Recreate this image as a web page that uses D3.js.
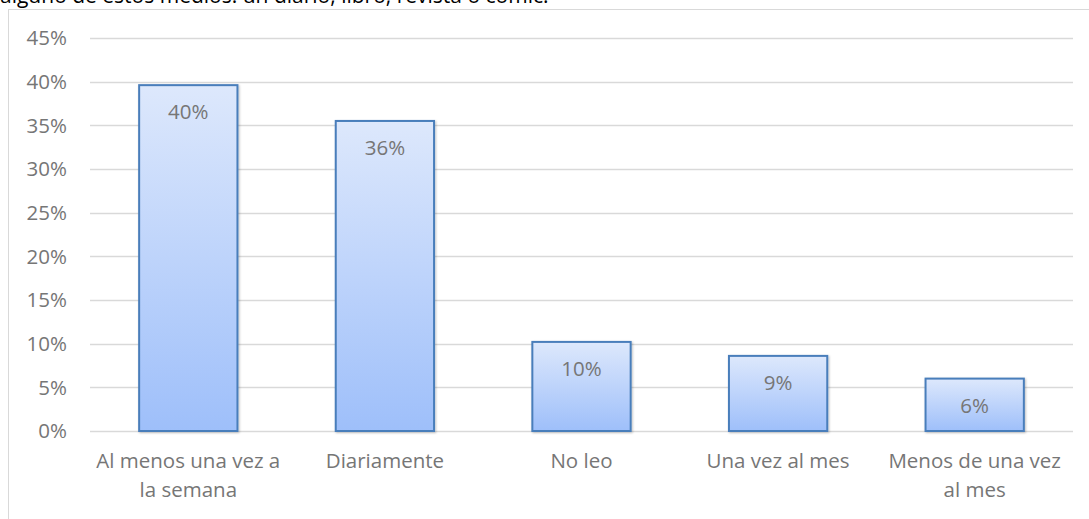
<!DOCTYPE html>
<html lang="es">
<head>
<meta charset="utf-8">
<title>Frecuencia de lectura</title>
<script src="https://cdn.jsdelivr.net/npm/d3@7"></script>
<style>
  html, body { margin: 0; padding: 0; background: #fff; overflow: hidden; }
  text { font-family: "Open Sans", sans-serif; }
  .grid line { stroke: #d9d9d9; stroke-width: 1.5px; }
  .axis text, .cat text, .val text { fill: #767676; font-size: 20.5px; }
</style>
</head>
<body>
<div id="chart"></div>
<script>
var categories = ["Al menos una vez a\nla semana", "Diariamente", "No leo", "Una vez al mes", "Menos de una vez\nal mes"];
var values = [0.396, 0.355, 0.102, 0.086, 0.060];
var labels = ["40%", "36%", "10%", "9%", "6%"];
var yTicks = [0, 0.05, 0.10, 0.15, 0.20, 0.25, 0.30, 0.35, 0.40, 0.45];
var caption = "alguno de estos medios: un diario, libro, revista o cómic.";

var width = 1089, height = 519;

var svg = d3.select("#chart").append("svg")
    .attr("width", width)
    .attr("height", height);

// caption text cut off at the top
svg.append("text")
    .attr("x", 0)
    .attr("y", 3)
    .style("font-size", "21px")
    .style("fill", "#000")
    .text(caption);

// chart frame
svg.append("rect")
    .attr("x", 8.5).attr("y", 9.5)
    .attr("width", 1100).attr("height", 530)
    .attr("fill", "#fff")
    .attr("stroke", "#d9d9d9");

var x = d3.scaleBand()
    .domain(categories)
    .range([90, 1073])
    .paddingInner(0.5)
    .paddingOuter(0.25);

var y = d3.scaleLinear()
    .domain([0, 0.45])
    .range([431, 38]);

var defs = svg.append("defs");
var grad = defs.append("linearGradient")
    .attr("id", "barGrad")
    .attr("x1", 0).attr("y1", 0).attr("x2", 0).attr("y2", 1);
grad.append("stop").attr("offset", "0%").attr("stop-color", "#dde8fc");
grad.append("stop").attr("offset", "100%").attr("stop-color", "#9ebffa");

var shadow = defs.append("filter").attr("id", "shadow")
    .attr("x", "-10%").attr("y", "-10%").attr("width", "120%").attr("height", "120%");
shadow.append("feDropShadow")
    .attr("dx", 1).attr("dy", 1).attr("stdDeviation", 1.2)
    .attr("flood-color", "#000").attr("flood-opacity", 0.25);

// gridlines
svg.append("g").attr("class", "grid")
  .selectAll("line")
  .data(yTicks)
  .join("line")
    .attr("x1", 90).attr("x2", 1073)
    .attr("y1", function(d) { return Math.round(y(d)) + 0.5; })
    .attr("y2", function(d) { return Math.round(y(d)) + 0.5; });

// y axis labels
svg.append("g").attr("class", "axis")
  .selectAll("text")
  .data(yTicks)
  .join("text")
    .attr("x", 67)
    .attr("y", function(d) { return y(d); })
    .attr("dy", "0.35em")
    .attr("text-anchor", "end")
    .text(d3.format(".0%"));

// bars
svg.append("g")
  .selectAll("rect")
  .data(values)
  .join("rect")
    .attr("x", function(d, i) { return x(categories[i]); })
    .attr("y", function(d) { return y(d); })
    .attr("width", x.bandwidth())
    .attr("height", function(d) { return y(0) - y(d); })
    .attr("fill", "url(#barGrad)")
    .attr("stroke", "#4a7ebb")
    .attr("stroke-width", 2)
    .attr("filter", "url(#shadow)");

// value labels inside end
svg.append("g").attr("class", "val")
  .selectAll("text")
  .data(values)
  .join("text")
    .attr("x", function(d, i) { return x(categories[i]) + x.bandwidth() / 2; })
    .attr("y", function(d) { return y(d) + 34; })
    .attr("text-anchor", "middle")
    .text(function(d, i) { return labels[i]; });

// category labels
var cat = svg.append("g").attr("class", "cat")
  .selectAll("text")
  .data(categories)
  .join("text")
    .attr("text-anchor", "middle")
    .attr("y", 468);

cat.selectAll("tspan")
  .data(function(d) { return d.split("\n").map(function(s) { return { cat: d, line: s }; }); })
  .join("tspan")
    .attr("x", function(d) { return x(d.cat) + x.bandwidth() / 2; })
    .attr("dy", function(d, i) { return i ? 29 : 0; })
    .text(function(d) { return d.line; });
</script>
</body>
</html>
